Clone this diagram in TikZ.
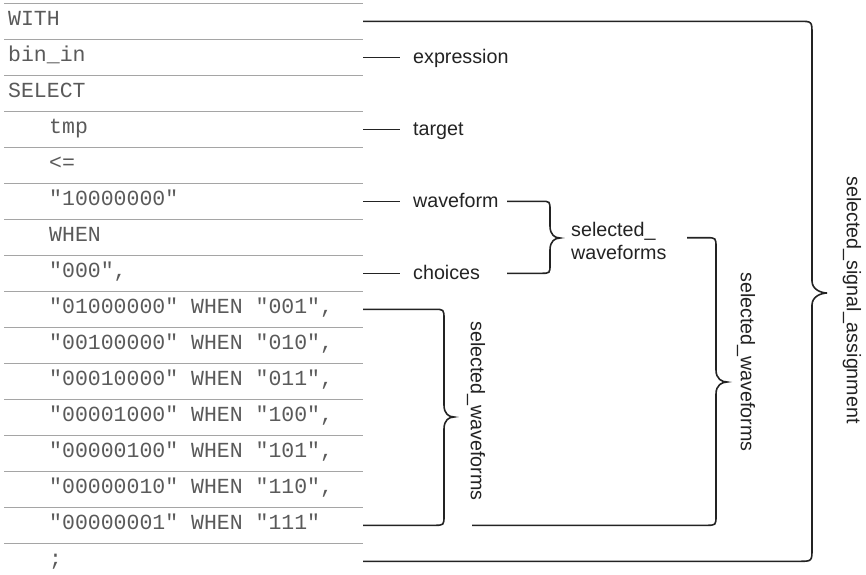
\documentclass[tikz,border=0pt]{standalone}
\usepackage{fontspec}
\setmainfont{Liberation Sans}
\newfontfamily\codefont{Liberation Mono}
\definecolor{codegray}{RGB}{90,90,90}
\definecolor{sepgray}{RGB}{165,165,165}
\definecolor{ink}{RGB}{35,35,35}
\tikzset{
  code/.style={font=\codefont\fontsize{21.5}{24}\selectfont, text=codegray, anchor=base west, inner sep=0pt},
  lbl/.style={font=\fontsize{19.7}{22.5}\selectfont, text=ink, anchor=base west, inner sep=0pt},
  vlbl/.style={font=\fontsize{19.7}{22.5}\selectfont, text=ink, rotate=-90, inner sep=0pt},
  sepline/.style={draw=sepgray, line width=1.3pt},
  conn/.style={draw=ink, line width=1.6pt},
  mybrace/.style n args={6}{insert path={-- (#1-#6,#2) .. controls (#1,#2) .. (#1,#2+#6)
      -- (#1,#5-12) .. controls (#1,#5-3) and (#4-5,#5) .. (#4,#5)
      .. controls (#4-5,#5) and (#1,#5+3) .. (#1,#5+12)
      -- (#1,#3-#6) .. controls (#1,#3) .. (#1-#6,#3)}},
}
\begin{document}
\begin{tikzpicture}[x=1pt,y=-1pt]
\useasboundingbox (0,0) rectangle (866,574);
\foreach \k in {0,...,15} \draw[sepline] (4,3.3+36*\k) -- (363,3.3+36*\k);

% code rows
\node[code] (r1)  at (8,25.8)   {WITH};
\node[code] (r2)  at (8,61.8)   {bin\_in};
\node[code] (r3)  at (8,97.8)   {SELECT};
\node[code] (r4)  at (49,133.8) {tmp};
\node[code] (r5)  at (49,169.8) {<=};
\node[code] (r6)  at (49,205.8) {"10000000"};
\node[code] (r7)  at (49,241.8) {WHEN};
\node[code] (r8)  at (49,277.8) {"000",};
\node[code] (r9)  at (49,313.8) {"01000000" WHEN "001",};
\node[code] (r10) at (49,349.8) {"00100000" WHEN "010",};
\node[code] (r11) at (49,385.8) {"00010000" WHEN "011",};
\node[code] (r12) at (49,421.8) {"00001000" WHEN "100",};
\node[code] (r13) at (49,457.8) {"00000100" WHEN "101",};
\node[code] (r14) at (49,493.8) {"00000010" WHEN "110",};
\node[code] (r15) at (49,529.8) {"00000001" WHEN "111"};
\node[code] (r16) at (49,565.8) {;};

% connector end points at the right of the rows
\coordinate (e1)  at (363,21.3);
\coordinate (e2)  at (363,57.3);
\coordinate (e4)  at (363,129.3);
\coordinate (e6)  at (363,201.3);
\coordinate (e8)  at (363,273.3);
\coordinate (e9)  at (363,309.3);
\coordinate (e15) at (363,525.3);
\coordinate (e16) at (363,561.3);

% labels
\node[lbl] (lexpr)   at (413,63.5)  {expression};
\node[lbl] (ltarget) at (413,135.5) {target};
\node[lbl] (lwave)   at (413,207.5) {waveform};
\node[lbl] (lchoice) at (413,279.5) {choices};
\node[font=\fontsize{19.7}{22.5}\selectfont, text=ink, align=left, anchor=west, inner sep=0pt] (lsw) at (571,241) {selected\_\\waveforms};
\node[vlbl] (linner)  at (476,411) {selected\_waveforms};
\node[vlbl] (lmiddle) at (746,362) {selected\_waveforms};
\node[vlbl] (louter)  at (852,300) {selected\_signal\_assignment};

% short connectors
\coordinate (x2) at (400,57.3);
\coordinate (x4) at (400,129.3);
\coordinate (x6) at (400,201.3);
\coordinate (x8) at (400,273.3);
\draw[conn] (e2) -- (x2);
\draw[conn] (e4) -- (x4);
\draw[conn] (e6) -- (x6);
\draw[conn] (e8) -- (x8);

% small brace: waveform + choices
\coordinate (w1) at (507,201.3);
\coordinate (w2) at (507,273.3);
\draw[conn] (w1) [mybrace={550}{201.3}{273.3}{560}{238}{9}] -- (w2);

% inner brace
\draw[conn] (e9) [mybrace={444}{309.3}{525.3}{454}{417}{10}] -- (e15);

% middle brace
\coordinate (m1) at (687,237.7);
\coordinate (m2) at (472,525.3);
\draw[conn] (m1) [mybrace={716}{237.7}{525.3}{727}{382}{10}] -- (m2);

% outer brace
\draw[conn] (e1) [mybrace={812}{21.3}{561.3}{827}{293}{13}] -- (e16);
\end{tikzpicture}
\end{document}
